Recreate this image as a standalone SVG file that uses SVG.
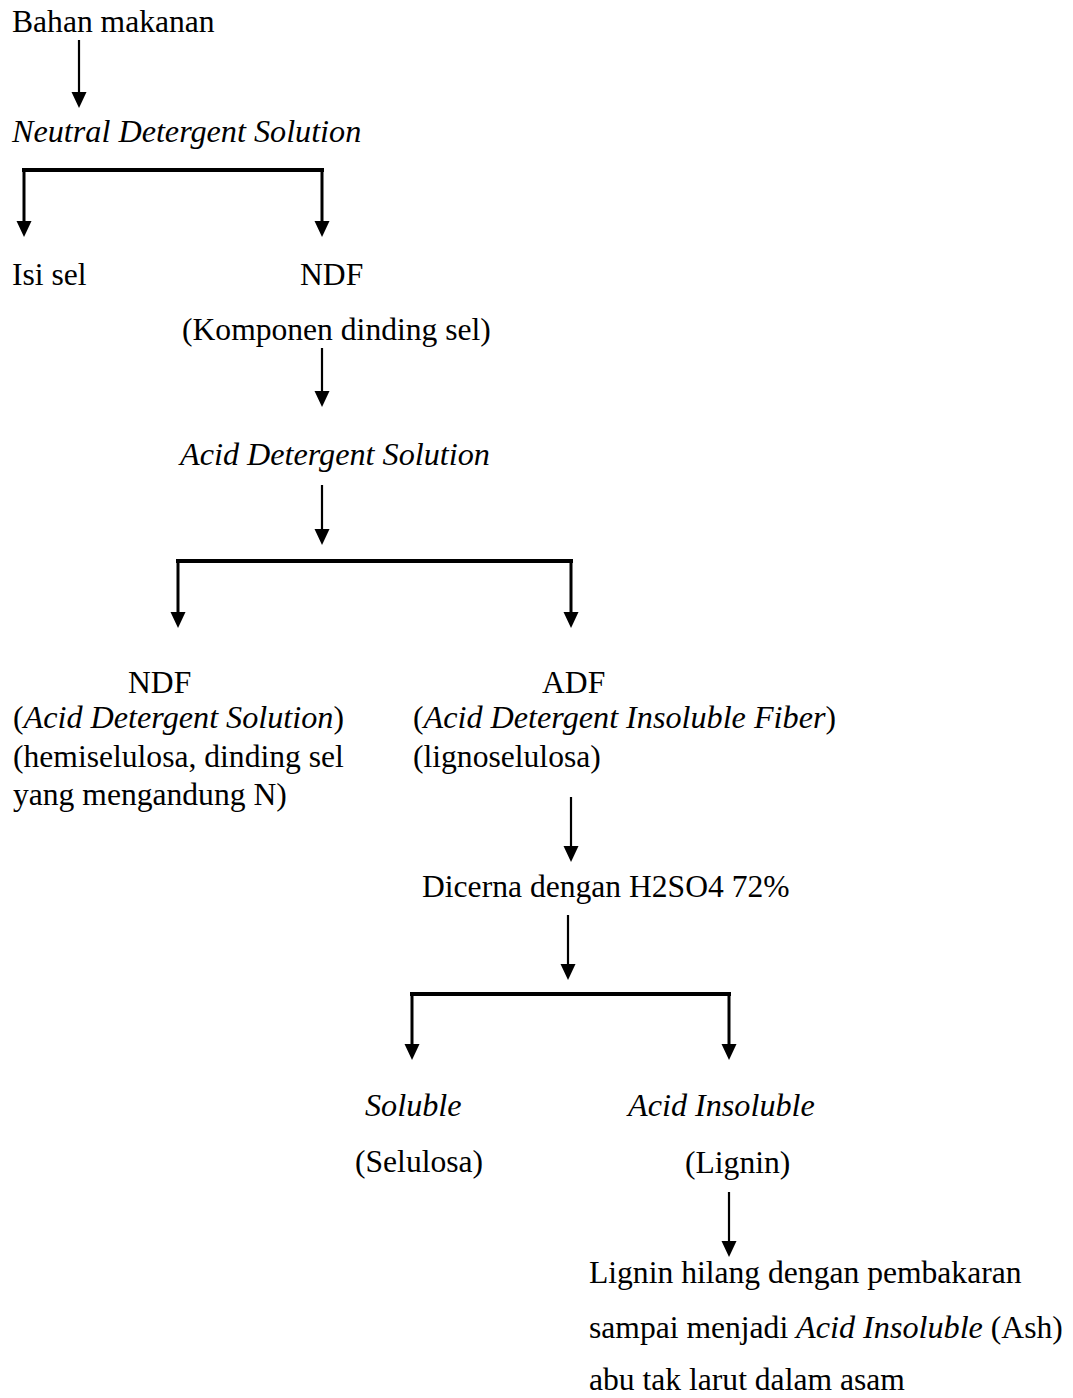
<svg xmlns="http://www.w3.org/2000/svg" width="1073" height="1398" viewBox="0 0 1073 1398">
<style>
text{font-family:"Liberation Serif","Times New Roman",serif;font-size:31.6px;fill:#000}
.i{font-style:italic;font-size:32.2px}
.a{stroke:#000;stroke-width:2.2;fill:none}
.v{stroke:#000;stroke-width:3;fill:none}
.h{stroke:#000;stroke-width:4;fill:none}
</style>
<defs>
<marker id="ah" markerUnits="userSpaceOnUse" viewBox="0 -8 16 16" refX="0" refY="0" markerWidth="16" markerHeight="16" orient="auto">
<path d="M0,-7.5 L16,0 L0,7.5 z" fill="#000"/>
</marker>
</defs>
<rect width="1073" height="1398" fill="#fff"/>
<g id="connectors">
<line class="a" x1="79" y1="40" x2="79" y2="92" marker-end="url(#ah)"/>
<line class="h" x1="22" y1="170" x2="324" y2="170"/>
<line class="v" x1="24" y1="170" x2="24" y2="221" marker-end="url(#ah)"/>
<line class="v" x1="322" y1="170" x2="322" y2="221" marker-end="url(#ah)"/>
<line class="a" x1="322" y1="348" x2="322" y2="391" marker-end="url(#ah)"/>
<line class="a" x1="322" y1="485" x2="322" y2="529" marker-end="url(#ah)"/>
<line class="h" x1="176" y1="561" x2="573" y2="561"/>
<line class="v" x1="178" y1="561" x2="178" y2="612" marker-end="url(#ah)"/>
<line class="v" x1="571" y1="561" x2="571" y2="612" marker-end="url(#ah)"/>
<line class="a" x1="571" y1="797" x2="571" y2="846" marker-end="url(#ah)"/>
<line class="a" x1="568" y1="915" x2="568" y2="964" marker-end="url(#ah)"/>
<line class="h" x1="410" y1="994" x2="731" y2="994"/>
<line class="v" x1="412" y1="994" x2="412" y2="1044" marker-end="url(#ah)"/>
<line class="v" x1="729" y1="994" x2="729" y2="1044" marker-end="url(#ah)"/>
<line class="a" x1="729" y1="1192" x2="729" y2="1241" marker-end="url(#ah)"/>
</g>
<g id="bahan"><text x="12" y="32">Bahan makanan</text></g>
<g id="nds"><text class="i" x="12" y="142">Neutral Detergent Solution</text></g>
<g id="isisel"><text x="12" y="285">Isi sel</text></g>
<g id="ndf1"><text x="300" y="285">NDF</text><text x="182" y="340">(Komponen dinding sel)</text></g>
<g id="ads"><text class="i" x="180" y="465">Acid Detergent Solution</text></g>
<g id="ndf2">
<text x="128" y="693">NDF</text>
<text x="13" y="728">(<tspan class="i">Acid Detergent Solution</tspan>)</text>
<text x="13" y="767">(hemiselulosa, dinding sel</text>
<text x="13" y="805">yang mengandung N)</text>
</g>
<g id="adf">
<text x="542" y="693">ADF</text>
<text x="413" y="728">(<tspan class="i">Acid Detergent Insoluble Fiber</tspan>)</text>
<text x="413" y="767">(lignoselulosa)</text>
</g>
<g id="dicerna"><text x="422" y="897">Dicerna dengan H2SO4 72%</text></g>
<g id="soluble"><text class="i" x="365" y="1116">Soluble</text><text x="355" y="1172">(Selulosa)</text></g>
<g id="acidins"><text class="i" x="628" y="1116">Acid Insoluble</text><text x="685" y="1173">(Lignin)</text></g>
<g id="lignin">
<text x="589" y="1283">Lignin hilang dengan pembakaran</text>
<text x="589" y="1338">sampai menjadi <tspan class="i">Acid Insoluble</tspan> (Ash)</text>
<text x="589" y="1390">abu tak larut dalam asam</text>
</g>
</svg>
